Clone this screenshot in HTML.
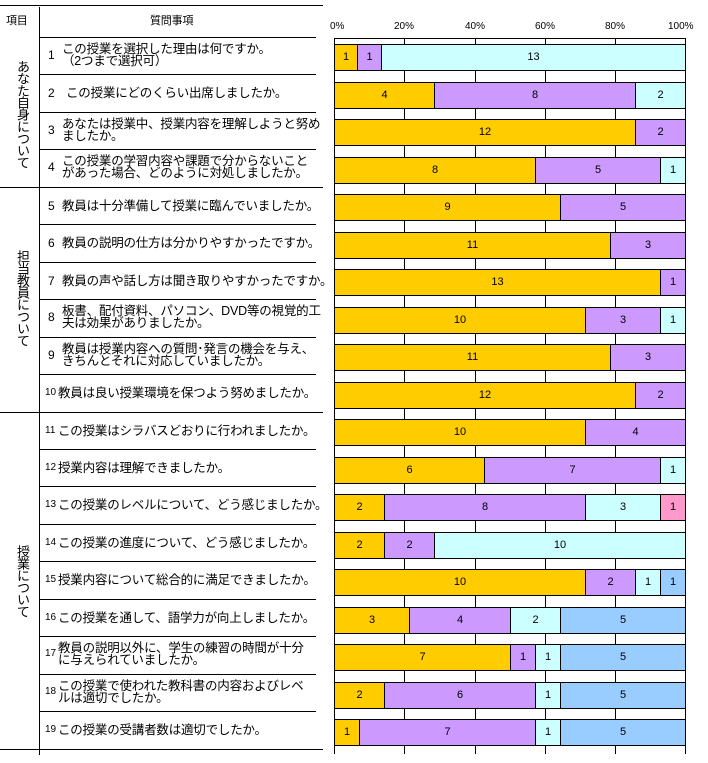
<!DOCTYPE html>
<html><head><meta charset="utf-8"><style>
body{margin:0;width:708px;height:763px;background:#fff;position:relative;overflow:hidden;font-family:"Liberation Sans","Noto Sans CJK JP",sans-serif;color:#000}
div{position:absolute;box-sizing:border-box}
.h{height:1px;background:#000}
.v{width:1px;background:#000}
.q{font-size:12.5px;line-height:12px;white-space:nowrap;letter-spacing:-0.2px}
.n{font-size:12px;line-height:12px}
.b{border:1px solid #000;font-size:11px;text-align:center;height:27px;line-height:25px}
.t{font-size:10px;top:21px}
.g{writing-mode:vertical-rl;font-size:13px;left:13px;letter-spacing:-1px}
</style></head><body>
<script>
(function(){
var R=document.body,h='';
function d(c,s,t){h+='<div class="'+c+'" style="'+s+'">'+(t===undefined?'':t)+'</div>';}
d('h','left:0;top:5px;width:323px');
d('v','left:39px;top:7px;height:748px');
d('h','left:40px;top:37px;width:276px');
var qs=[["この授業を選択した理由は何ですか。","（2つまで選択可）"],["この授業にどのくらい出席しましたか。"],["あなたは授業中、授業内容を理解しようと努め","ましたか。"],["この授業の学習内容や課題で分からないこと","があった場合、どのように対処しましたか。"],["教員は十分準備して授業に臨んでいましたか。"],["教員の説明の仕方は分かりやすかったですか。"],["教員の声や話し方は聞き取りやすかったですか。"],["板書、配付資料、パソコン、DVD等の視覚的工","夫は効果がありましたか。"],["教員は授業内容への質問･発言の機会を与え、","きちんとそれに対応していましたか。"],["教員は良い授業環境を保つよう努めましたか。"],["この授業はシラバスどおりに行われましたか。"],["授業内容は理解できましたか。"],["この授業のレベルについて、どう感じましたか。"],["この授業の進度について、どう感じましたか。"],["授業内容について総合的に満足できましたか。"],["この授業を通して、語学力が向上しましたか。"],["教員の説明以外に、学生の練習の時間が十分","に与えられていましたか。"],["この授業で使われた教科書の内容およびレベ","ルは適切でしたか。"],["この授業の受講者数は適切でしたか。"]];
var data=[[1,1,13],[4,8,2],[12,2],[8,5,1],[9,5],[11,3],[13,1],[10,3,1],[11,3],[12,2],[10,4],[6,7,1],[2,8,3,1],[2,2,10],[10,2,1,1],[3,4,2,5],[7,1,1,5],[2,6,1,5],[1,7,1,5]];
var C=["#FFCC00","#CC99FF","#CCFFFF","#99CCFF"];
d('q','left:6px;top:15px;font-size:11px','項目');
d('q','left:150px;top:15px;font-size:11px','質問事項');
for(var i=0;i<19;i++){
 var rt=37+37.45*i, bot=rt+37.45;
 var full=(i==3||i==9||i==18);
 d('h','left:'+(full?0:40)+'px;top:'+Math.round(bot)+'px;width:'+(full?323:276)+'px');
 var q=qs[i],num=i+1,nx=num<10?48:45,tx=num<10?62:58,fs=num>9?'font-size:10px':'';
 if(q.length==1){d('n','left:'+nx+'px;top:'+Math.round(rt+13)+'px;'+fs,num);d('q','left:'+(i==1?66:tx)+'px;top:'+Math.round(rt+13)+'px',q[0]);}
 else{d('n','left:'+nx+'px;top:'+Math.round(rt+12)+'px;'+fs,num);d('q','left:'+tx+'px;top:'+Math.round(rt+6)+'px',q[0]);d('q','left:'+tx+'px;top:'+Math.round(rt+18)+'px',q[1]);}
 var v=data[i],tot=0;v.forEach(function(a){tot+=a});
 var x=334,by=Math.round(44+37.5*i);
 for(var j=0;j<v.length;j++){var w=351*v[j]/tot;var c=(i==12&&j==3)?"#FF99CC":C[j];d('b','left:'+Math.round(x)+'px;top:'+by+'px;width:'+(Math.round(x+w)-Math.round(x)+1)+'px;background:'+c,v[j]);x+=w;}
}
d('g','top:60px','あなた自身について');
d('g','top:250px','担当教員について');
d('g','top:545px','授業について');
d('h','left:334px;top:38px;width:352px');
[334,404,475,545,615,685].forEach(function(gx,k){d('v','left:'+gx+'px;top:38px;height:716px;z-index:-1');d('t','left:'+(gx-(k==0?4:k==5?17:10))+'px',(k*20)+'%');});
R.insertAdjacentHTML('beforeend',h);
})();
</script>
</body></html>
